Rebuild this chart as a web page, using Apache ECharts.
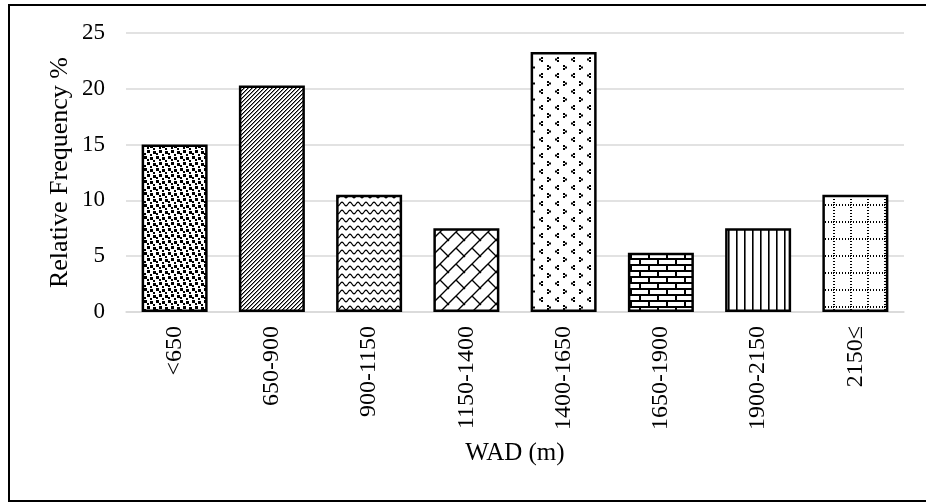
<!DOCTYPE html>
<html>
<head>
<meta charset="utf-8">
<script src="https://cdn.jsdelivr.net/npm/echarts@6/dist/echarts.min.js"></script>
<style>
html,body{margin:0;padding:0;background:#fff;}
#chart{width:926px;height:502px;}
</style>
</head>
<body>
<div id="chart"></div>
<script>
// ---- data ----
const categories = ['<650', '650-900', '900-1150', '1150-1400', '1400-1650', '1650-1900', '1900-2150', '2150≤'];
const frequency = [15.0, 20.3, 10.5, 7.5, 23.3, 5.3, 7.5, 10.5];
const yMin = 0;
const yMax = 25;
const yStep = 5;
const xTitle = 'WAD (m)';
const yTitle = 'Relative Frequency %';

// ---- fill patterns (styling only) ----
function tile(w, h, draw) {
  const c = document.createElement('canvas');
  c.width = w; c.height = h;
  const g = c.getContext('2d');
  g.fillStyle = '#fff';
  g.fillRect(0, 0, w, h);
  g.fillStyle = '#000';
  g.strokeStyle = '#000';
  draw(g, w, h);
  return { image: c, repeat: 'repeat' };
}
const patterns = [
  // large confetti
  tile(12, 12, g => {
    [[0,0],[6,1],[3,6],[9,7]].forEach(p => g.fillRect(p[0], p[1], 3, 3));
    [[3,3],[9,4],[0,9],[6,10]].forEach(p => g.fillRect(p[0], p[1], 2, 2));
  }),
  // dense upward diagonal
  tile(4, 4, g => {
    [[3,0],[2,1],[1,2],[0,3]].forEach(p => g.fillRect(p[0], p[1], 1, 1));
    g.fillStyle = '#888';
    [[3,1],[2,2],[1,3],[0,0]].forEach(p => g.fillRect(p[0], p[1], 1, 1));
  }),
  // waves
  tile(16, 8, g => {
    g.lineWidth = 1.2;
    g.beginPath();
    for (let x = -1; x <= 17; x += 0.5) {
      const y = 4 + 1.8 * Math.sin(2 * Math.PI * x / 8);
      if (x === -1) g.moveTo(x, y); else g.lineTo(x, y);
    }
    g.stroke();
  }),
  // diagonal brick
  tile(16, 16, g => {
    g.lineWidth = 1.4;
    g.beginPath();
    g.moveTo(-2, 18); g.lineTo(18, -2);
    g.moveTo(-2, 2); g.lineTo(2, -2);
    g.moveTo(14, 18); g.lineTo(18, 14);
    g.moveTo(8, 8); g.lineTo(17, 17);
    g.moveTo(-1, -1); g.lineTo(1, 1);
    g.stroke();
  }),
  // chevron dots
  tile(16, 16, g => {
    [[3,1],[5,2.5],[3,4]].forEach(p => g.fillRect(p[0], p[1], 2, 2));
    [[13,9],[11,10.5],[13,12]].forEach(p => g.fillRect(p[0], p[1], 2, 2));
  }),
  // horizontal brick
  tile(18, 12, g => {
    g.fillRect(0, 0, 18, 2);
    g.fillRect(0, 6, 18, 2);
    g.fillRect(0, 2, 2, 4);
    g.fillRect(9, 8, 2, 4);
  }),
  // vertical lines
  tile(8, 1, g => {
    g.fillRect(0, 0, 1, 1);
    g.fillStyle = '#666';
    g.fillRect(1, 0, 1, 1);
  }),
  // dotted grid
  tile(17, 17, g => {
    for (let x = 0; x < 17; x += 3) g.fillRect(x, 0, 1, 2);
    for (let y = 0; y < 17; y += 3) g.fillRect(0, y, 2, 1);
  })
];

const FONT = 'Liberation Serif';
const GRID = '#d9d9d9';

const chart = echarts.init(document.getElementById('chart'), null, { renderer: 'canvas' });
chart.setOption({
  animation: false,
  backgroundColor: '#fff',
  graphic: [{
    type: 'rect',
    shape: { x: 9, y: 5, width: 1000, height: 496 },
    style: { fill: 'none', stroke: '#000', lineWidth: 2 },
    silent: true,
    z: 100
  }],
  grid: { left: 126, right: 22, top: 33, bottom: 190, containLabel: false },
  xAxis: {
    type: 'category',
    data: categories,
    name: xTitle,
    nameLocation: 'middle',
    nameGap: 129,
    nameMoveOverlap: false,
    nameTextStyle: { fontFamily: FONT, fontSize: 25, color: '#000' },
    axisLine: { show: true, lineStyle: { color: GRID, width: 1.5 } },
    axisTick: { show: false },
    axisLabel: { rotate: 90, margin: 14, fontFamily: FONT, fontSize: 24, color: '#000', interval: 0 },
    splitLine: { show: false }
  },
  yAxis: {
    type: 'value',
    min: yMin,
    max: yMax,
    interval: yStep,
    name: yTitle,
    nameLocation: 'middle',
    nameGap: 53,
    nameMoveOverlap: false,
    nameTextStyle: { fontFamily: FONT, fontSize: 26, color: '#000' },
    axisLine: { show: false },
    axisTick: { show: false },
    axisLabel: { margin: 21, fontFamily: FONT, fontSize: 23, color: '#000' },
    splitLine: { show: true, lineStyle: { color: GRID, width: 1.5 } }
  },
  series: [{
    type: 'bar',
    barWidth: 66,
    data: frequency.map((v, i) => ({
      value: v,
      itemStyle: { color: patterns[i], borderColor: '#000', borderWidth: 2.5 }
    }))
  }]
});
</script>
</body>
</html>
